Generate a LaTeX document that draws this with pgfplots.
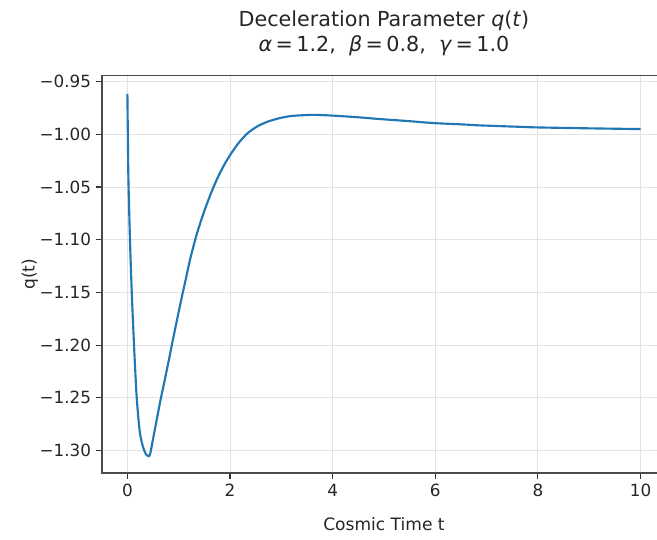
\documentclass[border=0pt]{standalone}
\usepackage{pgfplots}
\pgfplotsset{compat=1.18}
\usepackage{fontspec}
\setmainfont{DejaVu Sans}
\definecolor{mplblue}{HTML}{1F77B4}
\begin{document}
\begin{tikzpicture}[x=1pt,y=1pt]
\path[use as bounding box] (-76.3,-49.5) rectangle (416.4,354.75);
\begin{axis}[
  name=ax,
  at={(0,0)}, anchor=south west,
  scale only axis, width=423.3pt, height=298pt,
  xmin=-0.5, xmax=10.5, ymin=-1.3215, ymax=-0.9443,
  xtick={0,2,4,6,8,10},
  ytick={-1.30,-1.25,-1.20,-1.15,-1.10,-1.05,-1.00,-0.95},
  yticklabels={−1.30,−1.25,−1.20,−1.15,−1.10,−1.05,−1.00,−0.95},
  tick pos=left, tick align=outside, major tick length=4.5pt,
  /pgf/number format/assume math mode=true,
  ticklabel style={font=\fontsize{12.6}{15}\selectfont, text=black!85},
  grid=major, major grid style={black!11, line width=0.75pt},
  axis line style={black!70, line width=1.2pt},
  every tick/.style={black!80, line width=0.8pt},
]
\addplot[mplblue, line width=1.6pt, smooth, tension=0.4] table[row sep=\\] {
t q\\
0.00 -0.9615\\
0.01 -1.006\\
0.02 -1.043\\
0.05 -1.100\\
0.085 -1.150\\
0.13 -1.201\\
0.18 -1.249\\
0.24 -1.282\\
0.30 -1.296\\
0.36 -1.3035\\
0.42 -1.3055\\
0.45 -1.302\\
0.50 -1.289\\
0.571 -1.271\\
0.65 -1.251\\
0.733 -1.232\\
0.815 -1.2125\\
0.895 -1.193\\
0.98 -1.173\\
1.058 -1.155\\
1.14 -1.137\\
1.22 -1.119\\
1.35 -1.095\\
1.49 -1.074\\
1.62 -1.057\\
1.75 -1.042\\
1.88 -1.0295\\
2.01 -1.019\\
2.17 -1.008\\
2.34 -0.999\\
2.53 -0.9925\\
2.73 -0.988\\
2.95 -0.9848\\
3.19 -0.9826\\
3.60 -0.9815\\
4.00 -0.9822\\
4.50 -0.9838\\
4.92 -0.9855\\
5.50 -0.9875\\
5.96 -0.9893\\
6.50 -0.9905\\
6.87 -0.9915\\
7.50 -0.9926\\
7.97 -0.9934\\
9.00 -0.9943\\
10.00 -0.9950\\
};
\end{axis}
\draw[black!70, line width=1.2pt] (ax.north west) -- (ax.north east);
\node[anchor=base, font=\fontsize{15.5}{18}\selectfont, text=black!85] at (211.65,334.5) {Deceleration Parameter \textit{q}(\textit{t})};
\node[anchor=base, font=\fontsize{15.5}{18}\selectfont, text=black!85] at (211.65,315.8) {\textit{α}\,=\,1.2,\ \ \textit{β}\,=\,0.8,\ \ \textit{γ}\,=\,1.0};
\node[anchor=base, font=\fontsize{12.8}{15}\selectfont, text=black!85] at (211.65,-42.75) {Cosmic Time t};
\node[rotate=90, anchor=center, font=\fontsize{12.8}{15}\selectfont, text=black!85] at (-53.8,149) {q(t)};
\end{tikzpicture}
\end{document}
